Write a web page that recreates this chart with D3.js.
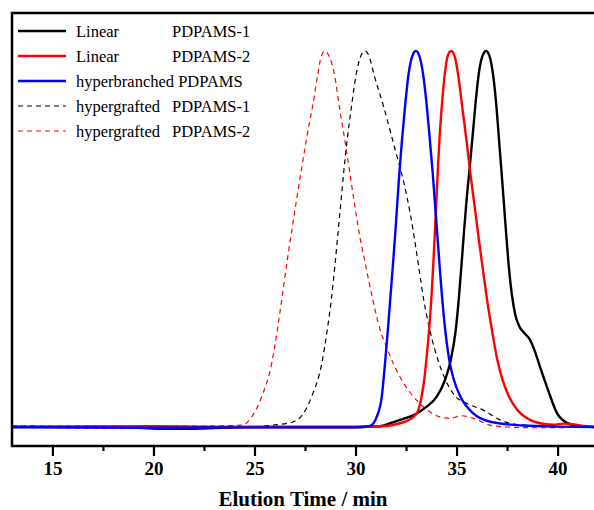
<!DOCTYPE html>
<html>
<head>
<meta charset="utf-8">
<script src="https://cdn.jsdelivr.net/npm/d3@7"></script>
<style>
  body { margin: 0; background: #fff; }
  svg { display: block; }
</style>
</head>
<body>
<svg id="chart" width="594" height="510"></svg>
<script>
// GPC traces, normalised intensity vs elution time (min)
const linear1 = [[13,0],[18,0],[21,-0.005],[25,0],[30,0],[31.2,0.002],[31.71,0.010],[32.2,0.019],[33.03,0.036],[33.52,0.054],
  [34.02,0.081],[34.43,0.125],[34.7,0.175],[34.96,0.258],[35.12,0.347],[35.25,0.435],[35.37,0.52],[35.49,0.6],
  [35.63,0.68],[35.78,0.765],[35.93,0.855],[36.1,0.94],[36.27,0.985],[36.46,1.0],[36.64,0.985],[36.8,0.94],[36.97,0.855],
  [37.1,0.765],[37.23,0.675],[37.35,0.59],[37.46,0.51],[37.58,0.43],[37.73,0.355],[37.9,0.3],[38.1,0.268],[38.35,0.25],
  [38.6,0.235],[38.85,0.205],[39.13,0.16],[39.53,0.098],[39.97,0.037],[40.47,0.011],[41.0,0.003],[41.75,0],[42,0]];
const linear2 = [[13,0],[20,0.002],[25,0],[30,0],[31.3,0.002],[32.2,0.010],[32.86,0.027],[33.11,0.045],[33.27,0.081],
  [33.4,0.125],[33.5,0.175],[33.64,0.258],[33.76,0.347],[33.85,0.435],[33.93,0.52],[34.0,0.6],[34.07,0.68],
  [34.16,0.77],[34.28,0.86],[34.42,0.94],[34.55,0.985],[34.73,1.0],[34.91,0.985],[35.07,0.94],[35.28,0.852],[35.49,0.763],
  [35.69,0.672],[35.9,0.585],[36.1,0.5],[36.3,0.42],[36.52,0.335],[36.77,0.252],[37.02,0.178],[37.25,0.13],[37.56,0.085],
  [37.98,0.047],[38.63,0.019],[39.13,0.010],[39.8,0.006],[40.3,0.009],[40.8,0.007],[41.4,0.002],[42,0]];
const hyperbranched = [[13,0],[20,-0.002],[25,-0.001],[30,-0.001],[30.72,0.003],[31.05,0.027],[31.3,0.081],[31.46,0.169],
  [31.6,0.258],[31.73,0.347],[31.85,0.43],[31.96,0.51],[32.06,0.59],[32.17,0.675],[32.3,0.763],[32.45,0.852],
  [32.63,0.94],[32.8,0.985],[32.99,1.0],[33.17,0.985],[33.34,0.94],[33.53,0.852],[33.68,0.763],[33.82,0.675],[33.94,0.59],
  [34.05,0.51],[34.16,0.43],[34.28,0.347],[34.44,0.258],[34.66,0.172],[34.87,0.125],[35.17,0.083],[35.83,0.036],[36.66,0.014],
  [38.29,0.004],[40,0.001],[42,0]];
const hypergrafted1 = [[13,0],[20,-0.003],[23,0],[24.78,0.001],[25.92,0.005],[26.92,0.014],[27.42,0.036],[27.83,0.081],
  [28.33,0.169],[28.6,0.258],[28.82,0.347],[28.99,0.435],[29.14,0.52],[29.28,0.6],[29.42,0.68],[29.59,0.765],
  [29.8,0.852],[30.04,0.94],[30.25,0.985],[30.47,1.0],[30.68,0.985],[30.9,0.94],[31.4,0.85],[31.95,0.74],[32.37,0.655],
  [32.7,0.57],[32.92,0.5],[33.13,0.425],[33.37,0.34],[33.69,0.255],[34.1,0.175],[34.43,0.128],[34.92,0.083],
  [35.5,0.063],[36.32,0.045],[37.15,0.019],[38.29,0.005],[41.75,0],[42,0]];
const hypergrafted2 = [[13,0.003],[20,0.002],[23,0.003],[24.43,0.005],[24.86,0.027],[25.36,0.081],[25.85,0.169],
  [26.13,0.258],[26.37,0.347],[26.6,0.435],[26.84,0.52],[27.07,0.6],[27.34,0.69],[27.62,0.78],[27.9,0.86],
  [28.14,0.94],[28.3,0.985],[28.49,1.0],[28.7,0.985],[28.95,0.94],[29.2,0.852],[29.47,0.763],[29.72,0.675],[29.96,0.59],
  [30.2,0.51],[30.5,0.43],[30.82,0.347],[31.2,0.262],[31.54,0.212],[31.87,0.169],[32.29,0.125],[32.86,0.081],
  [33.35,0.054],[34.18,0.027],[34.68,0.023],[35.25,0.030],[35.83,0.023],[36.66,0.005],[37.48,0],[39,-0.002],[42,0]];

const series = [
  { name: "Linear", suffix: "PDPAMS-1", data: linear1, color: "#000000", dash: null, width: 2.4 },
  { name: "Linear", suffix: "PDPAMS-2", data: linear2, color: "#ff0000", dash: null, width: 2.4 },
  { name: "hyperbranched PDPAMS", suffix: "", data: hyperbranched, color: "#0000ff", dash: null, width: 2.4 },
  { name: "hypergrafted", suffix: "PDPAMS-1", data: hypergrafted1, color: "#000000", dash: "5,4", width: 1.2 },
  { name: "hypergrafted", suffix: "PDPAMS-2", data: hypergrafted2, color: "#ff0000", dash: "5,4", width: 1.2 }
];
const majorTicks = [15, 20, 25, 30, 35, 40];
const minorTicks = [17.5, 22.5, 27.5, 32.5, 37.5];

const frameL = 12, frameT = 13, frameR = 598, frameB = 446;
const svg = d3.select("#chart");

const x = d3.scaleLinear().domain([13, 42]).range([frameL, frameR]);
const y = d3.scaleLinear().domain([-0.0505, 1.101]).range([frameB, frameT]);

svg.append("clipPath").attr("id", "plotclip")
  .append("rect").attr("x", frameL).attr("y", frameT).attr("width", frameR - frameL).attr("height", frameB - frameT);

const line = d3.line().x(d => x(d[0])).y(d => y(d[1])).curve(d3.curveMonotoneX);

const plot = svg.append("g").attr("clip-path", "url(#plotclip)");
// dashed traces underneath, solid ones on top
[3, 4, 0, 1, 2].forEach(i => {
  const s = series[i];
  plot.append("path")
    .datum(s.data)
    .attr("d", line)
    .attr("fill", "none")
    .attr("stroke", s.color)
    .attr("stroke-width", s.width)
    .attr("stroke-dasharray", s.dash)
    .attr("stroke-linejoin", "round");
});

// frame
svg.append("rect")
  .attr("x", frameL).attr("y", frameT)
  .attr("width", frameR - frameL).attr("height", frameB - frameT)
  .attr("fill", "none").attr("stroke", "#000").attr("stroke-width", 2.5);

// bottom axis
const axis = svg.append("g").attr("transform", `translate(0,${frameB})`);
axis.call(d3.axisBottom(x).tickValues(majorTicks).tickSize(10).tickPadding(6).tickFormat(d3.format("d")));
axis.select(".domain").remove();
axis.selectAll(".tick line").attr("stroke-width", 2.2);
axis.selectAll(".tick text")
  .attr("font-family", "'Liberation Serif', 'Times New Roman', serif")
  .attr("font-weight", "bold").attr("font-size", 19).attr("fill", "#000");
const minorAxis = svg.append("g").attr("transform", `translate(0,${frameB})`);
minorAxis.call(d3.axisBottom(x).tickValues(minorTicks).tickSize(5).tickFormat(""));
minorAxis.select(".domain").remove();
minorAxis.selectAll(".tick line").attr("stroke-width", 2.2);

svg.append("text")
  .attr("x", 303).attr("y", 506)
  .attr("text-anchor", "middle")
  .attr("font-family", "'Liberation Serif', 'Times New Roman', serif")
  .attr("font-weight", "bold").attr("font-size", 21)
  .text("Elution Time / min");

// legend
const legend = svg.append("g").attr("font-family", "'Liberation Serif', 'Times New Roman', serif").attr("font-size", 16.5);
series.forEach((s, i) => {
  const ly = 31 + i * 25;
  legend.append("line")
    .attr("x1", 18).attr("x2", 66).attr("y1", ly).attr("y2", ly)
    .attr("stroke", s.color).attr("stroke-width", s.width)
    .attr("stroke-dasharray", s.dash);
  legend.append("text").attr("x", 76).attr("y", ly + 5.5).text(s.name);
  if (s.suffix) legend.append("text").attr("x", 172).attr("y", ly + 5.5).text(s.suffix);
});
</script>
</body>
</html>
